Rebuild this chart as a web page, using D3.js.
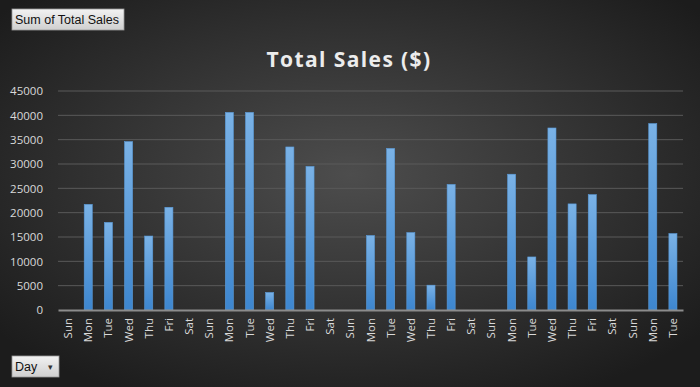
<!DOCTYPE html>
<html>
<head>
<meta charset="utf-8">
<script src="https://cdn.jsdelivr.net/npm/d3@7"></script>
<style>
  body { margin: 0; background: #2a2a2a; }
  svg { display: block; }
</style>
</head>
<body>
<script>
// categorie (giorni) e valori delle vendite
const days = ["Sun","Mon","Tue","Wed","Thu","Fri","Sat",
  "Sun","Mon","Tue","Wed","Thu","Fri","Sat",
  "Sun","Mon","Tue","Wed","Thu","Fri","Sat",
  "Sun","Mon","Tue","Wed","Thu","Fri","Sat",
  "Sun","Mon","Tue"];
const sales = [0, 21700, 18000, 34600, 15200, 21100, 0,
  0, 40600, 40600, 3600, 33500, 29500, 0,
  0, 15300, 33200, 15900, 5100, 25800, 0,
  0, 27900, 10900, 37400, 21800, 23700, 0,
  0, 38300, 15700];
const yTicks = [0, 5000, 10000, 15000, 20000, 25000, 30000, 35000, 40000, 45000];

const width = 700, height = 387;
const margin = { left: 58, right: 17, top: 91, bottom: 77 };

const svg = d3.select("body").append("svg")
  .attr("width", width)
  .attr("height", height);

const defs = svg.append("defs");

// sfondo con gradiente radiale
const bg = defs.append("radialGradient").attr("id", "bg")
  .attr("cx", "50%").attr("cy", "45%").attr("r", "65%");
bg.append("stop").attr("offset", "0%").attr("stop-color", "#4d4d4d");
bg.append("stop").attr("offset", "100%").attr("stop-color", "#1c1c1c");

// gradiente delle barre
const barGrad = defs.append("linearGradient").attr("id", "bar")
  .attr("x1", 0).attr("y1", 0).attr("x2", 0).attr("y2", 1);
barGrad.append("stop").attr("offset", "0%").attr("stop-color", "#7ab2e6");
barGrad.append("stop").attr("offset", "100%").attr("stop-color", "#3d86cf");

// gradiente dei bottoni
const btnGrad = defs.append("linearGradient").attr("id", "btn")
  .attr("x1", 0).attr("y1", 0).attr("x2", 0).attr("y2", 1);
btnGrad.append("stop").attr("offset", "0%").attr("stop-color", "#f2f2f2");
btnGrad.append("stop").attr("offset", "100%").attr("stop-color", "#cfcfcf");

svg.append("rect").attr("width", width).attr("height", height).attr("fill", "url(#bg)");

// scale
const x = d3.scaleBand()
  .domain(d3.range(days.length))
  .range([margin.left, width - margin.right])
  .paddingInner(0.6).paddingOuter(0.3);

const y = d3.scaleLinear()
  .domain([0, 45000])
  .range([height - margin.bottom, margin.top]);

// griglia
svg.append("g").selectAll("line")
  .data(yTicks.filter(d => d > 0))
  .enter().append("line")
  .attr("x1", margin.left).attr("x2", width - margin.right)
  .attr("y1", d => y(d)).attr("y2", d => y(d))
  .style("stroke", "#5a5a5a").style("stroke-width", 1);

// asse y
const yAxis = svg.append("g")
  .attr("transform", `translate(${margin.left - 12},0)`)
  .call(d3.axisLeft(y).tickValues(yTicks).tickSize(0).tickFormat(d3.format("d")));
yAxis.select(".domain").remove();
yAxis.selectAll("text")
  .style("font-family", "Open Sans, sans-serif")
  .style("font-size", "11.5px")
  .style("fill", "#d9d9d9");

// barre
svg.append("g").selectAll("rect")
  .data(sales)
  .enter().append("rect")
  .attr("x", (d, i) => x(i))
  .attr("width", x.bandwidth())
  .attr("y", d => y(d))
  .attr("height", d => y(0) - y(d))
  .style("fill", "url(#bar)")
  .style("stroke", "#5a9ad8").style("stroke-width", 0.6);

// asse x
const xAxis = svg.append("g")
  .attr("transform", `translate(0,${y(0)})`)
  .call(d3.axisBottom(x).tickSize(0).tickFormat(i => days[i]));
xAxis.select(".domain")
  .style("stroke", "#8c8c8c").style("stroke-width", 2);
xAxis.selectAll("text")
  .attr("transform", "rotate(-90)")
  .attr("x", -8).attr("y", 0).attr("dy", "0.35em")
  .style("text-anchor", "end")
  .style("font-family", "Open Sans, sans-serif")
  .style("font-size", "11.5px")
  .style("fill", "#d9d9d9");

// titolo
svg.append("text")
  .attr("x", 349).attr("y", 67)
  .attr("text-anchor", "middle")
  .style("font-family", "Open Sans, sans-serif")
  .style("font-weight", "bold")
  .style("font-size", "21px")
  .style("letter-spacing", "1.4px")
  .style("fill", "#ececec")
  .text("Total Sales ($)");

// bottoni del pivot
function button(bx, by, bw, bh, label, arrow) {
  const g = svg.append("g").attr("transform", `translate(${bx},${by})`);
  g.append("rect").attr("width", bw).attr("height", bh)
    .style("fill", "url(#btn)").style("stroke", "#9a9a9a").style("stroke-width", 0.8);
  g.append("text").attr("x", 3).attr("y", bh / 2 + 4.5)
    .style("font-family", "Liberation Sans, Arial, sans-serif")
    .style("font-size", "12.5px").style("fill", "#111")
    .text(label);
  if (arrow) {
    g.append("text").attr("x", bw - 11).attr("y", bh / 2 + 3)
      .style("font-family", "Liberation Sans, Arial, sans-serif")
      .style("font-size", "9px").style("fill", "#333")
      .text("▾");
  }
}
button(12, 9, 112, 21, "Sum of Total Sales", false);
button(12, 356, 47, 21, "Day", true);
</script>
</body>
</html>
